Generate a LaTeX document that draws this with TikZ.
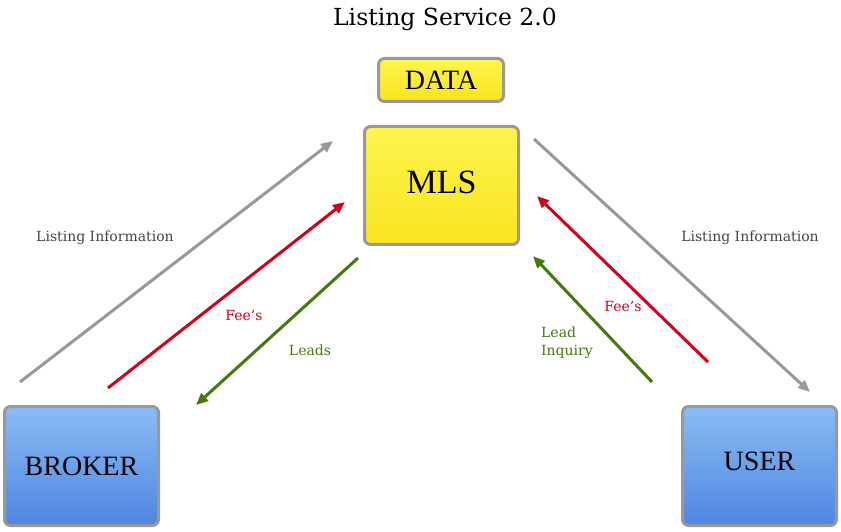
\documentclass[tikz,border=0pt]{standalone}
\usepackage{fontspec}
\setmainfont{Liberation Serif}
\newfontfamily\labelfont{DejaVu Serif}
\usetikzlibrary{arrows.meta}

\definecolor{boxgray}{HTML}{999999}
\definecolor{feered}{HTML}{D0021B}
\definecolor{leadgreen}{HTML}{437A0A}
\definecolor{labelgray}{HTML}{444444}

\tikzset{
  yellowbox/.style={draw=boxgray, line width=3pt, rounded corners=6pt,
    top color={rgb,255:red,254;green,244;blue,78}, bottom color={rgb,255:red,248;green,228;blue,30},
    font=\fontsize{28}{32}\selectfont},
  bluebox/.style={draw=boxgray, line width=3pt, rounded corners=6pt,
    top color={rgb,255:red,138;green,188;blue,244}, bottom color={rgb,255:red,78;green,134;blue,224},
    minimum width=154pt, minimum height=119pt, font=\fontsize{28}{32}\selectfont},
  flow/.style={line width=3pt, -{Triangle[length=12pt,width=10pt]}},
  small/.style={font=\labelfont\fontsize{14}{18}\selectfont}
}

\begin{document}
\begin{tikzpicture}[x=1pt,y=1pt]
\useasboundingbox (0,0) rectangle (841,531);
\node (title) at (445,512) {\labelfont\fontsize{23.5}{28}\selectfont Listing Service 2.0};
\node [yellowbox, minimum width=125pt, minimum height=43pt] (data) at (441,451) {DATA};
\node [yellowbox, minimum width=154pt, minimum height=118pt, font=\fontsize{34}{38}\selectfont] (mls) at (441.5,345.5) {\raisebox{7pt}{MLS}};
\node [bluebox] (broker) at (81.5,65) {BROKER};
\node [bluebox] (user) at (759.5,65) {\raisebox{10pt}{USER}\hspace{8pt}};
% arrow ends
\coordinate (b1) at (20,149);
\coordinate (m1) at (333,390);
\coordinate (b2) at (108,143);
\coordinate (m2) at (345,329);
\coordinate (m3) at (358,273);
\coordinate (b3) at (196,126);
\coordinate (m4) at (534,392);
\coordinate (u1) at (810,139);
\coordinate (u2) at (708,169);
\coordinate (m5) at (537,335);
\coordinate (u3) at (652,149);
\coordinate (m6) at (533,275);
\draw [flow, boxgray] (b1) -- (m1);
\draw [flow, feered] (b2) -- (m2);
\draw [flow, leadgreen] (m3) -- (b3);
\draw [flow, boxgray] (m4) -- (u1);
\draw [flow, feered] (u2) -- (m5);
\draw [flow, leadgreen] (u3) -- (m6);
\node [small, labelgray] (info1) at (105,293) {Listing Information};
\node [small, labelgray] (info2) at (750,293) {Listing Information};
\node [small, feered] (fee1) at (244,216) {Fee’s};
\node [small, feered] (fee2) at (623,225) {Fee’s};
\node [small, leadgreen] (leads) at (310,181) {Leads};
\node [small, leadgreen, align=left] (inquiry) at (567,188) {Lead\\Inquiry};
\end{tikzpicture}
\end{document}
